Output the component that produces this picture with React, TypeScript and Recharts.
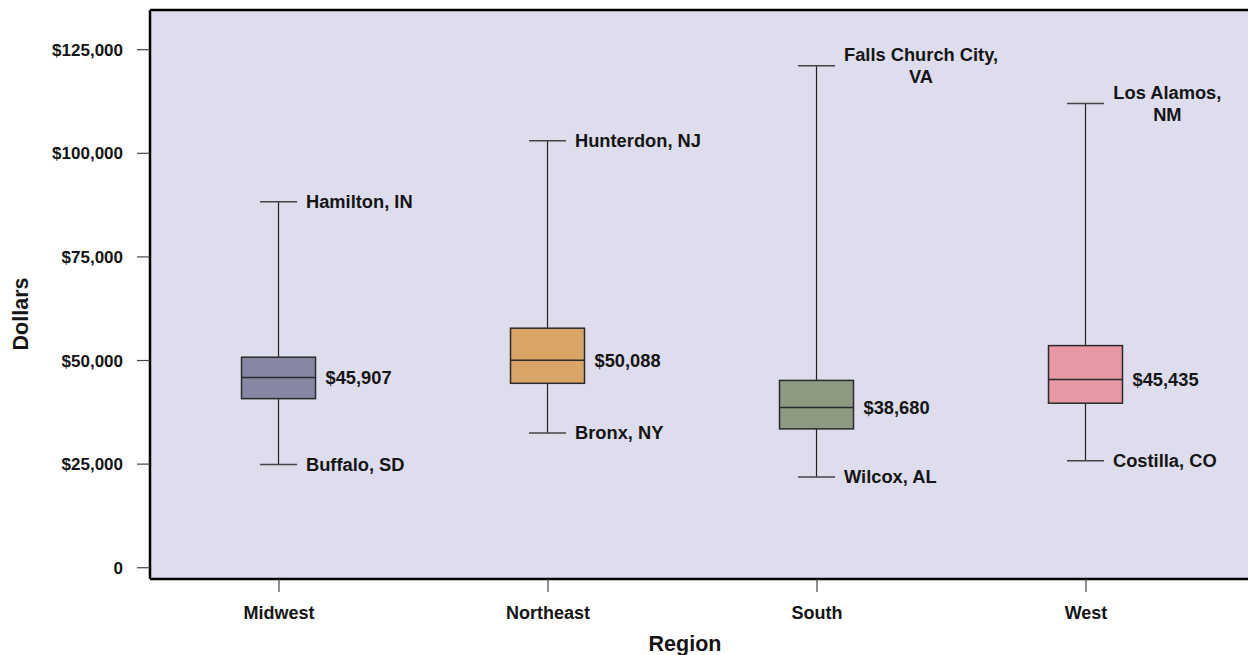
import { Bar, CartesianGrid, ComposedChart, ReferenceLine, XAxis, YAxis } from "recharts";

// county median household income by region (box = quartiles, whiskers = extreme counties)
const regions = ["Midwest", "Northeast", "South", "West"];
const positions = [1, 2, 3, 4];
const lowWhisker = [24900, 32500, 21900, 25800];
const lowerQuartile = [40800, 44500, 33500, 39700];
const medians = [45907, 50088, 38680, 45435];
const upperQuartile = [50800, 57800, 45200, 53600];
const highWhisker = [88300, 103000, 121100, 112000];
const lowCounty = ["Buffalo, SD", "Bronx, NY", "Wilcox, AL", "Costilla, CO"];
const highCounty = [["Hamilton, IN"], ["Hunterdon, NJ"], ["Falls Church City,", "VA"], ["Los Alamos,", "NM"]];
const boxColors = ["#8787a4", "#d8a567", "#8c9a82", "#e699a4"];
const yTicks = [0, 25000, 50000, 75000, 100000, 125000];

const Y_DOMAIN: [number, number] = [-2720, 134580];
const X_DOMAIN: [number, number] = [0.5204, 4.8699];
const FONT = '"Liberation Sans", Arial, sans-serif';
const LABEL_SIZE = 18.3;
const LABEL_FONT = `bold ${LABEL_SIZE}px ${FONT}`;

const data = regions.map((name, i) => ({
  name,
  pos: positions[i],
  min: lowWhisker[i],
  q1: lowerQuartile[i],
  median: medians[i],
  q3: upperQuartile[i],
  max: highWhisker[i],
  range: [lowWhisker[i], highWhisker[i]],
  lowLabel: lowCounty[i],
  highLabel: highCounty[i],
  color: boxColors[i],
}));

const money = (v: number) => (v === 0 ? "0" : `$${v.toLocaleString("en-US")}`);

let ctx: CanvasRenderingContext2D | null = null;
const textWidth = (s: string) => {
  if (!ctx) ctx = document.createElement("canvas").getContext("2d");
  if (!ctx) return s.length * 9;
  ctx.font = LABEL_FONT;
  return ctx.measureText(s).width;
};

const labelStyle = { fontFamily: FONT, fontWeight: 700, fontSize: LABEL_SIZE, fill: "#151515" };

const BoxShape = (props: any) => {
  const { x, y, width, height, payload } = props;
  const cx = x + width / 2;
  const unit = height / (payload.max - payload.min);
  const py = (v: number) => y + (payload.max - v) * unit;
  const half = width / 2;
  const cap = width / 4;
  const lines: string[] = payload.highLabel;
  const blockW = Math.max(...lines.map(textWidth));
  const lineH = 21.7;
  const firstY = py(payload.max) - ((lines.length - 1) * lineH) / 2;
  return (
    <g>
      <line x1={cx} x2={cx} y1={py(payload.max)} y2={py(payload.min)} stroke="#222" strokeWidth={1.2} />
      <line x1={cx - cap} x2={cx + cap} y1={py(payload.max)} y2={py(payload.max)} stroke="#444" strokeWidth={1.5} />
      <line x1={cx - cap} x2={cx + cap} y1={py(payload.min)} y2={py(payload.min)} stroke="#444" strokeWidth={1.5} />
      <rect
        x={cx - half}
        y={py(payload.q3)}
        width={width}
        height={py(payload.q1) - py(payload.q3)}
        fill={payload.color}
        stroke="#2a2a2a"
        strokeWidth={1.5}
      />
      <line x1={cx - half} x2={cx + half} y1={py(payload.median)} y2={py(payload.median)} stroke="#2a2a2a" strokeWidth={1.5} />
      <text x={cx + half + 10} y={py(payload.median)} dy="0.35em" {...labelStyle}>
        {money(payload.median)}
      </text>
      <text x={cx + cap + 9} y={py(payload.min)} dy="0.35em" {...labelStyle}>
        {payload.lowLabel}
      </text>
      <text textAnchor="middle" {...labelStyle}>
        {lines.map((s, i) => (
          <tspan key={s} x={cx + cap + 9 + blockW / 2} y={firstY + i * lineH} dy="0.35em">
            {s}
          </tspan>
        ))}
      </text>
    </g>
  );
};

export default function App() {
  return (
    <div style={{ position: "fixed", left: 0, top: 0, width: 1248, height: 655, overflow: "hidden", background: "#fff" }}>
      <ComposedChart width={1320} height={655} data={data} margin={{ top: 10, right: 0, left: 0, bottom: 0 }}>
        <CartesianGrid horizontal={false} vertical={false} fill="#dedded" />
        <XAxis
          type="number"
          dataKey="pos"
          domain={X_DOMAIN}
          allowDataOverflow
          ticks={positions}
          interval={0}
          tickFormatter={(v: number) => regions[v - 1] ?? ""}
          height={76}
          tickSize={13}
          tickMargin={14}
          axisLine={{ stroke: "#000", strokeWidth: 2.5 }}
          tickLine={{ stroke: "#444", strokeWidth: 1.2 }}
          tick={{ fontFamily: FONT, fontWeight: 700, fontSize: 18, fill: "#151515" }}
          label={{
            content: () => (
              <text x={685} y={644} textAnchor="middle" dominantBaseline="central" fontFamily={FONT} fontWeight={700} fontSize={21.5} fill="#151515">
                Region
              </text>
            ),
          }}
        />
        <YAxis
          type="number"
          domain={Y_DOMAIN}
          allowDataOverflow
          ticks={yTicks}
          interval={0}
          tickFormatter={money}
          width={150}
          tickSize={13}
          tickMargin={14}
          axisLine={{ stroke: "#000", strokeWidth: 2.5 }}
          tickLine={{ stroke: "#444", strokeWidth: 1.2 }}
          tick={{ fontFamily: FONT, fontWeight: 700, fontSize: 17, fill: "#151515" }}
          label={{
            content: () => (
              <text x={21} y={314} transform="rotate(-90 21 314)" textAnchor="middle" dominantBaseline="central" fontFamily={FONT} fontWeight={700} fontSize={21.5} fill="#151515">
                Dollars
              </text>
            ),
          }}
        />
        <ReferenceLine y={Y_DOMAIN[1]} stroke="#000" strokeWidth={2.5} />
        <Bar dataKey="range" barSize={74} shape={(p: any) => <BoxShape {...p} />} isAnimationActive={false} />
      </ComposedChart>
    </div>
  );
}
